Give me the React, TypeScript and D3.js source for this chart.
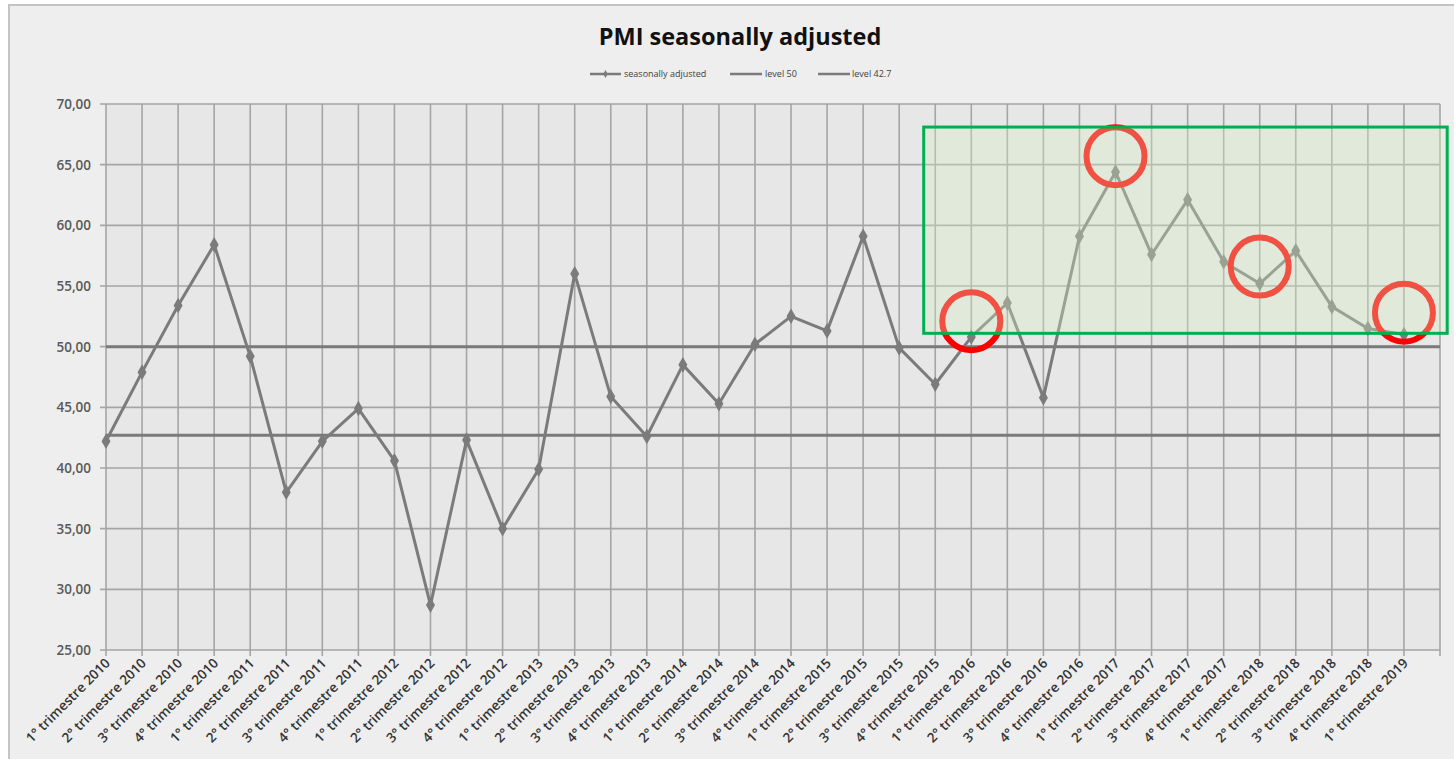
import React from 'react';
import * as d3 from 'd3';

const quarters = ['1°', '2°', '3°', '4°'];
const years = [2010, 2011, 2012, 2013, 2014, 2015, 2016, 2017, 2018, 2019];
const categories: string[] = years
  .flatMap((y) => quarters.map((q) => `${q} trimestre ${y}`))
  .slice(0, 37);

const seasonallyAdjusted = [
  42.2, 47.9, 53.4, 58.4, 49.2, 38.0, 42.2, 44.9, 40.6, 28.7, 42.3, 35.0, 39.9,
  56.0, 45.9, 42.6, 48.5, 45.3, 50.2, 52.5, 51.3, 59.1, 49.9, 46.9, 50.8, 53.6,
  45.8, 59.1, 64.4, 57.6, 62.1, 57.0, 55.2, 57.9, 53.3, 51.5, 51.0,
];
const level50 = 50;
const level427 = 42.7;
const yTicks = [25, 30, 35, 40, 45, 50, 55, 60, 65, 70];

// annotations (data units): highlighted quarters and circle centres
const circleIdx = [24, 28, 32, 36];
const circleVal = [52.1, 65.7, 56.6, 52.8];
const boxX = [22.68, 37.2];
const boxY = [51.1, 68.1];

const W = 1454;
const H = 759;
const left = 106;
const right = 1440;
const top = 104;
const bottom = 650;

const App: React.FC = () => {
  const x = d3.scaleLinear().domain([0, categories.length]).range([left, right]);
  const y = d3.scaleLinear().domain([25, 70]).range([bottom, top]);

  const line = d3
    .line<number>()
    .x((_, i) => x(i))
    .y((d) => y(d));
  const diamond = d3.symbol(d3.symbolDiamond, 70)() || '';
  const smallDiamond = d3.symbol(d3.symbolDiamond, 18)() || '';

  const grid = '#a5a5a5';
  const series = '#7b7b7b';
  const font = 'Open Sans, sans-serif';

  return (
    <svg width={W} height={H} style={{ position: 'absolute', left: 0, top: 0 }}>
      <rect x={0} y={0} width={W} height={H} fill="#ffffff" />
      <rect x={9} y={5} width={W} height={H} fill="#eeeeee" stroke="#c4c4c4" strokeWidth={2} />

      <text x={740} y={45} textAnchor="middle" fontFamily={font} fontWeight={700} fontSize={23.5} fill="#111">
        PMI seasonally adjusted
      </text>

      {/* legend */}
      <g fontFamily={font} fontSize={9} fill="#404040">
        <line x1={590} x2={621} y1={74} y2={74} stroke={series} strokeWidth={2.5} />
        <path d={smallDiamond} transform="translate(605.5,74)" fill={series} />
        <text x={624} y={77}>seasonally adjusted</text>
        <line x1={730} x2={762} y1={74} y2={74} stroke={series} strokeWidth={2.5} />
        <text x={765} y={77}>level 50</text>
        <line x1={818} x2={850} y1={74} y2={74} stroke={series} strokeWidth={2.5} />
        <text x={852} y={77}>level 42.7</text>
      </g>

      {/* plot area */}
      <rect x={left} y={top} width={right - left} height={bottom - top} fill="#e7e7e7" />
      {yTicks.map((t) => (
        <g key={t}>
          <line x1={left - 6} x2={right} y1={y(t)} y2={y(t)} stroke={grid} strokeWidth={1.6} />
          <text x={91} y={y(t) + 5} textAnchor="end" fontFamily={font} fontSize={13.5} fontWeight={600} fill="#595959">
            {d3.format('.2f')(t).replace('.', ',')}
          </text>
        </g>
      ))}
      {d3.range(categories.length + 1).map((i) => (
        <line key={i} x1={x(i)} x2={x(i)} y1={top} y2={bottom + 6} stroke={grid} strokeWidth={1.6} />
      ))}
      {categories.map((c, i) => (
        <text
          key={c}
          transform={`translate(${x(i) + 5},${bottom + 14}) rotate(-45)`}
          textAnchor="end"
          fontFamily={font}
          fontSize={13.5}
          fontWeight={600}
          fill="#333333"
        >
          {c}
        </text>
      ))}

      {/* reference levels */}
      <line x1={left} x2={right} y1={y(level50)} y2={y(level50)} stroke="#7a7a7a" strokeWidth={3} />
      <line x1={left} x2={right} y1={y(level427)} y2={y(level427)} stroke="#7a7a7a" strokeWidth={3} />

      {/* series */}
      <path d={line(seasonallyAdjusted) || ''} fill="none" stroke={series} strokeWidth={3} strokeLinejoin="round" />
      {seasonallyAdjusted.map((v, i) => (
        <path key={i} d={diamond} transform={`translate(${x(i)},${y(v)})`} fill={series} />
      ))}

      {/* annotations */}
      {circleIdx.map((ci, k) => (
        <circle key={ci} cx={x(ci)} cy={y(circleVal[k])} r={29} fill="none" stroke="#ff0000" strokeWidth={6} />
      ))}
      <rect
        x={x(boxX[0])}
        y={y(boxY[1])}
        width={x(boxX[1]) - x(boxX[0])}
        height={y(boxY[0]) - y(boxY[1])}
        fill="#d2ecc0"
        fillOpacity={0.34}
        stroke="#00b050"
        strokeWidth={3}
      />
    </svg>
  );
};

export default App;
